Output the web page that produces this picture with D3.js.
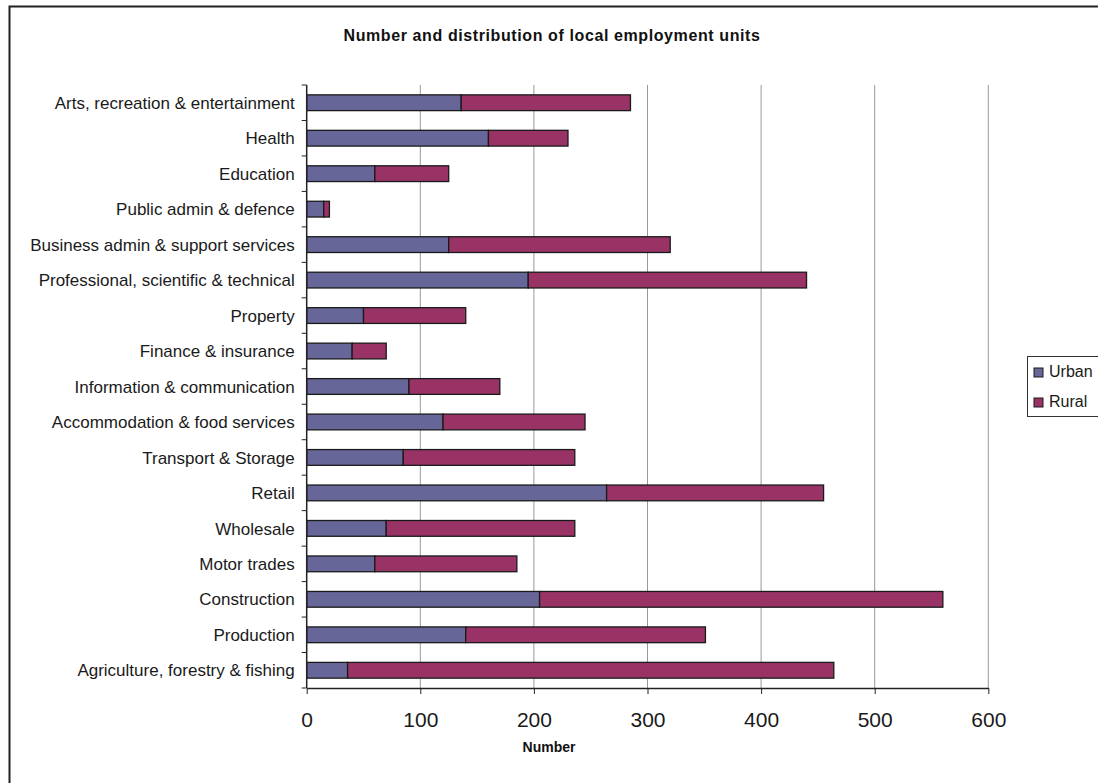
<!DOCTYPE html>
<html>
<head>
<meta charset="utf-8">
<script src="https://cdn.jsdelivr.net/npm/d3@7"></script>
<style>
  body { margin: 0; background: #fff; }
  svg { display: block; font-family: Arial, "Liberation Sans", sans-serif; }
</style>
</head>
<body>
<script>
// sectors, top to bottom as drawn
const categories = [
    "Arts, recreation & entertainment",
    "Health",
    "Education",
    "Public admin & defence",
    "Business admin & support services",
    "Professional, scientific & technical",
    "Property",
    "Finance & insurance",
    "Information & communication",
    "Accommodation & food services",
    "Transport & Storage",
    "Retail",
    "Wholesale",
    "Motor trades",
    "Construction",
    "Production",
    "Agriculture, forestry & fishing"
]
const urban = [136, 160, 60, 15, 125, 195, 50, 40, 90, 120, 85, 264, 70, 60, 205, 140, 36]
const rural = [149, 70, 65, 5, 195, 245, 90, 30, 80, 125, 151, 191, 166, 125, 355, 211, 428]
const seriesNames = ["Urban", "Rural"]
const xTicks = [0, 100, 200, 300, 400, 500, 600]

const width = 1098
const height = 783
const colors = {Urban: "#666699", Rural: "#993366"}

const plotLeft = 306.7
const plotRight = 988.3
const plotTop = 85
const plotBottom = 688

const rows = categories.map((c, i) => ({category: c, Urban: urban[i], Rural: rural[i]}))
const stacked = d3.stack().keys(seriesNames)(rows)

const x = d3.scaleLinear().domain([0, 600]).range([plotLeft, plotRight])
const y = d3.scaleBand().domain(categories).range([plotTop, plotBottom])
    .paddingInner(0.556).paddingOuter(0.278)

const svg = d3.select("body")
    .append("svg")
    .attr("width", width)
    .attr("height", height)

// chart frame (runs off the right and bottom edges)
svg.append("rect")
    .attr("x", 9.5).attr("y", 6.5)
    .attr("width", 1200).attr("height", 900)
    .attr("fill", "none")
    .attr("stroke", "#222")
    .attr("stroke-width", 2)

svg.append("text")
    .attr("x", 552).attr("y", 41)
    .attr("text-anchor", "middle")
    .style("font-size", "16px")
    .style("font-weight", "bold")
    .style("letter-spacing", "0.6px")
    .attr("fill", "#111")
    .text("Number and distribution of local employment units")

// vertical gridlines
svg.append("g")
    .selectAll("line")
    .data(xTicks.slice(1))
    .enter()
    .append("line")
    .attr("x1", d => x(d)).attr("x2", d => x(d))
    .attr("y1", plotTop).attr("y2", plotBottom)
    .attr("stroke", "#999")
    .attr("stroke-width", 1)

// bars
svg.append("g")
    .selectAll("g")
    .data(stacked)
    .enter()
    .append("g")
    .attr("fill", d => colors[d.key])
    .selectAll("rect")
    .data(d => d)
    .enter()
    .append("rect")
    .attr("x", d => x(d[0]))
    .attr("y", d => y(d.data.category))
    .attr("width", d => x(d[1]) - x(d[0]))
    .attr("height", y.bandwidth())
    .attr("stroke", "#1a1a1a")
    .attr("stroke-width", 1.3)

// x axis
const xAxis = svg.append("g")
    .attr("transform", `translate(0,${plotBottom})`)
    .call(d3.axisBottom(x).tickValues(xTicks).tickSize(6).tickSizeOuter(0).tickPadding(18))
xAxis.select(".domain").attr("stroke", "#222").attr("stroke-width", 1.5)
xAxis.selectAll(".tick line").attr("stroke", "#222")
xAxis.selectAll(".tick text")
    .style("font-size", "21px")
    .style("font-family", "Arial, 'Liberation Sans', sans-serif")
    .attr("fill", "#1a1a1a")

// y axis: ticks sit between categories
const yAxis = svg.append("g")
    .attr("transform", `translate(${plotLeft},0)`)
yAxis.append("line")
    .attr("x1", 0).attr("x2", 0)
    .attr("y1", plotTop).attr("y2", plotBottom)
    .attr("stroke", "#222").attr("stroke-width", 1.5)
const step = y.step()
yAxis.selectAll(".ytick")
    .data(d3.range(categories.length + 1))
    .enter()
    .append("line")
    .attr("x1", -5).attr("x2", 0)
    .attr("y1", i => plotTop + i * step).attr("y2", i => plotTop + i * step)
    .attr("stroke", "#222")
yAxis.selectAll(".ylabel")
    .data(categories)
    .enter()
    .append("text")
    .attr("x", -12)
    .attr("y", d => y(d) + y.bandwidth() / 2)
    .attr("dy", "0.36em")
    .attr("text-anchor", "end")
    .style("font-size", "17px")
    .attr("fill", "#1a1a1a")
    .text(d => d)

svg.append("text")
    .attr("x", 549).attr("y", 752)
    .attr("text-anchor", "middle")
    .style("font-size", "14px")
    .style("font-weight", "bold")
    .attr("fill", "#111")
    .text("Number")

// legend box, cut by the right edge
svg.append("rect")
    .attr("x", 1027.5).attr("y", 356.5)
    .attr("width", 100).attr("height", 60)
    .attr("fill", "#fff")
    .attr("stroke", "#333")
    .attr("stroke-width", 1)
const legend = svg.append("g")
seriesNames.forEach((s, i) => {
    legend.append("rect")
        .attr("x", 1034).attr("y", 368 + i * 30)
        .attr("width", 9).attr("height", 9)
        .attr("fill", colors[s])
        .attr("stroke", "#1a1a1a")
    legend.append("text")
        .attr("x", 1049).attr("y", 377 + i * 30)
        .style("font-size", "16px")
        .attr("fill", "#1a1a1a")
        .text(s)
})
</script>
</body>
</html>
